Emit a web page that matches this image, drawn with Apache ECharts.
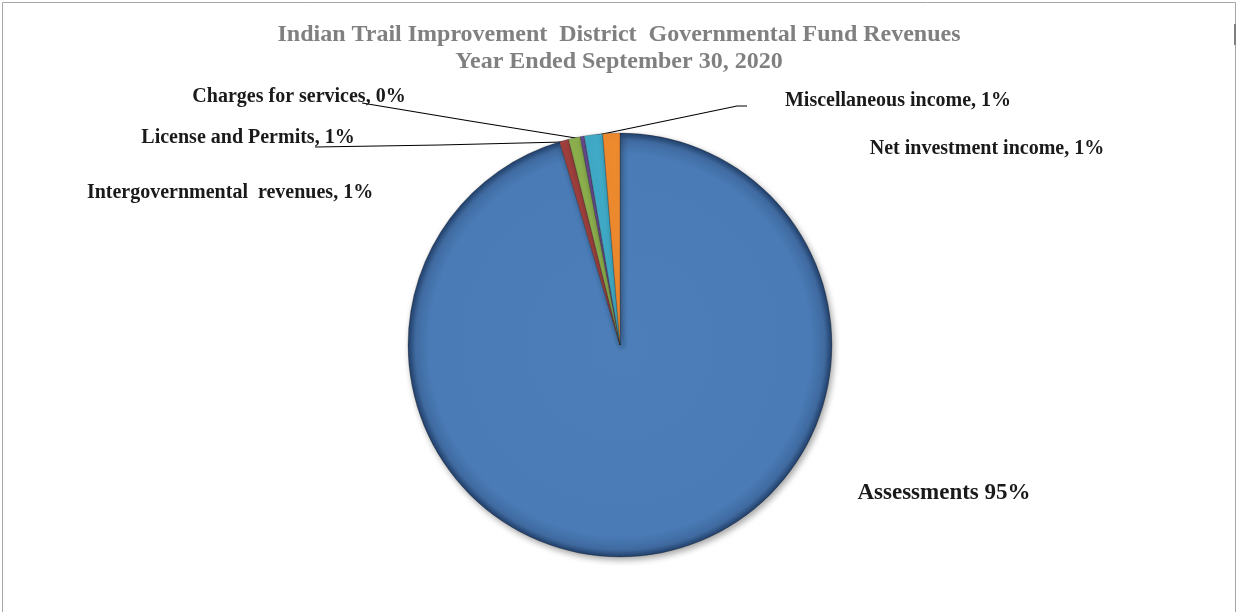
<!DOCTYPE html>
<html>
<head>
<meta charset="utf-8">
<script src="https://cdn.jsdelivr.net/npm/echarts@6/dist/echarts.min.js"></script>
<style>
html,body{margin:0;padding:0;background:#fff;}
#c{width:1238px;height:612px;}
</style>
</head>
<body>
<div id="c"></div>
<script>
const titleLines = ['Indian Trail Improvement  District  Governmental Fund Revenues', 'Year Ended September 30, 2020'];
const categories = ['Assessments', 'Intergovernmental  revenues', 'License and Permits', 'Charges for services', 'Miscellaneous income', 'Net investment income'];
const values = [95.4, 0.7, 0.9, 0.3, 1.4, 1.3];
const separators = [' ', ', ', ', ', ', ', ', ', ', '];
const colors = ['#4F81BD', '#A0403E', '#8DB04E', '#6A4C92', '#40AAC6', '#EE8A2E'];

// label layout (positions, not data)
const labelPos = [[944, 493], [230, 193], [248, 138], [299, 97], [898, 101], [987, 149]];
const linePts = [null, null, [[315, 147], [440, 145], [563, 142]], [[362, 103], [470, 121], [582, 139]], [[747, 106], [737, 106], [593, 136]], null];

const total = values.reduce((a, b) => a + b, 0);
const chart = echarts.init(document.getElementById('c'), null, {renderer: 'canvas'});

const data = categories.map((n, i) => {
  const item = {name: n, value: values[i], itemStyle: {color: colors[i]}};
  if (i === 0) {
    item.itemStyle.color = {
      type: 'radial', x: 0.5, y: 0.5, r: 0.5,
      colorStops: [
        {offset: 0, color: '#4D7EBA'},
        {offset: 0.9, color: '#4A7BB6'},
        {offset: 0.965, color: '#3F6AA0'},
        {offset: 1, color: '#203D66'}
      ]
    };
    item.label = {fontSize: 23};
  }
  item.labelLine = {show: !!linePts[i]};
  return item;
});

chart.setOption({
  animation: false,
  backgroundColor: '#ffffff',
  title: {
    text: titleLines.join('\n'),
    left: 'center',
    top: 16,
    textStyle: {
      fontFamily: 'Liberation Serif',
      fontWeight: 'bold',
      fontSize: 24,
      color: '#808080',
      lineHeight: 27
    }
  },
  graphic: [{
    type: 'rect',
    shape: {x: 2.5, y: 2.5, width: 1233, height: 640},
    style: {fill: 'none', stroke: '#A6A6A6', lineWidth: 1},
    silent: true
  }, {
    type: 'rect',
    shape: {x: 1234, y: 24, width: 2, height: 21},
    style: {fill: '#808080'},
    silent: true
  }],
  series: [{
    type: 'pie',
    center: [620, 345],
    radius: [0, 212],
    startAngle: 90,
    clockwise: true,
    avoidLabelOverlap: false,
    data: data,
    itemStyle: {
      borderColor: 'rgba(30,30,30,0.45)',
      borderWidth: 0.6,
      shadowBlur: 6,
      shadowColor: 'rgba(0,0,0,0.35)',
      shadowOffsetX: 2,
      shadowOffsetY: 3
    },
    label: {
      show: true,
      position: 'outside',
      fontFamily: 'Liberation Serif',
      fontWeight: 'bold',
      fontSize: 20,
      color: '#1a1a1a',
      formatter: function (p) {
        const pct = Math.round(p.value / total * 100);
        return p.name + separators[p.dataIndex] + pct + '%';
      }
    },
    labelLine: {
      show: true,
      length: 10,
      length2: 10,
      lineStyle: {color: '#000', width: 1.2}
    },
    labelLayout: function (params) {
      const i = params.dataIndex;
      const r = {x: labelPos[i][0], y: labelPos[i][1], align: 'center', verticalAlign: 'middle'};
      if (linePts[i]) r.labelLinePoints = linePts[i];
      return r;
    }
  }]
});
</script>
</body>
</html>
